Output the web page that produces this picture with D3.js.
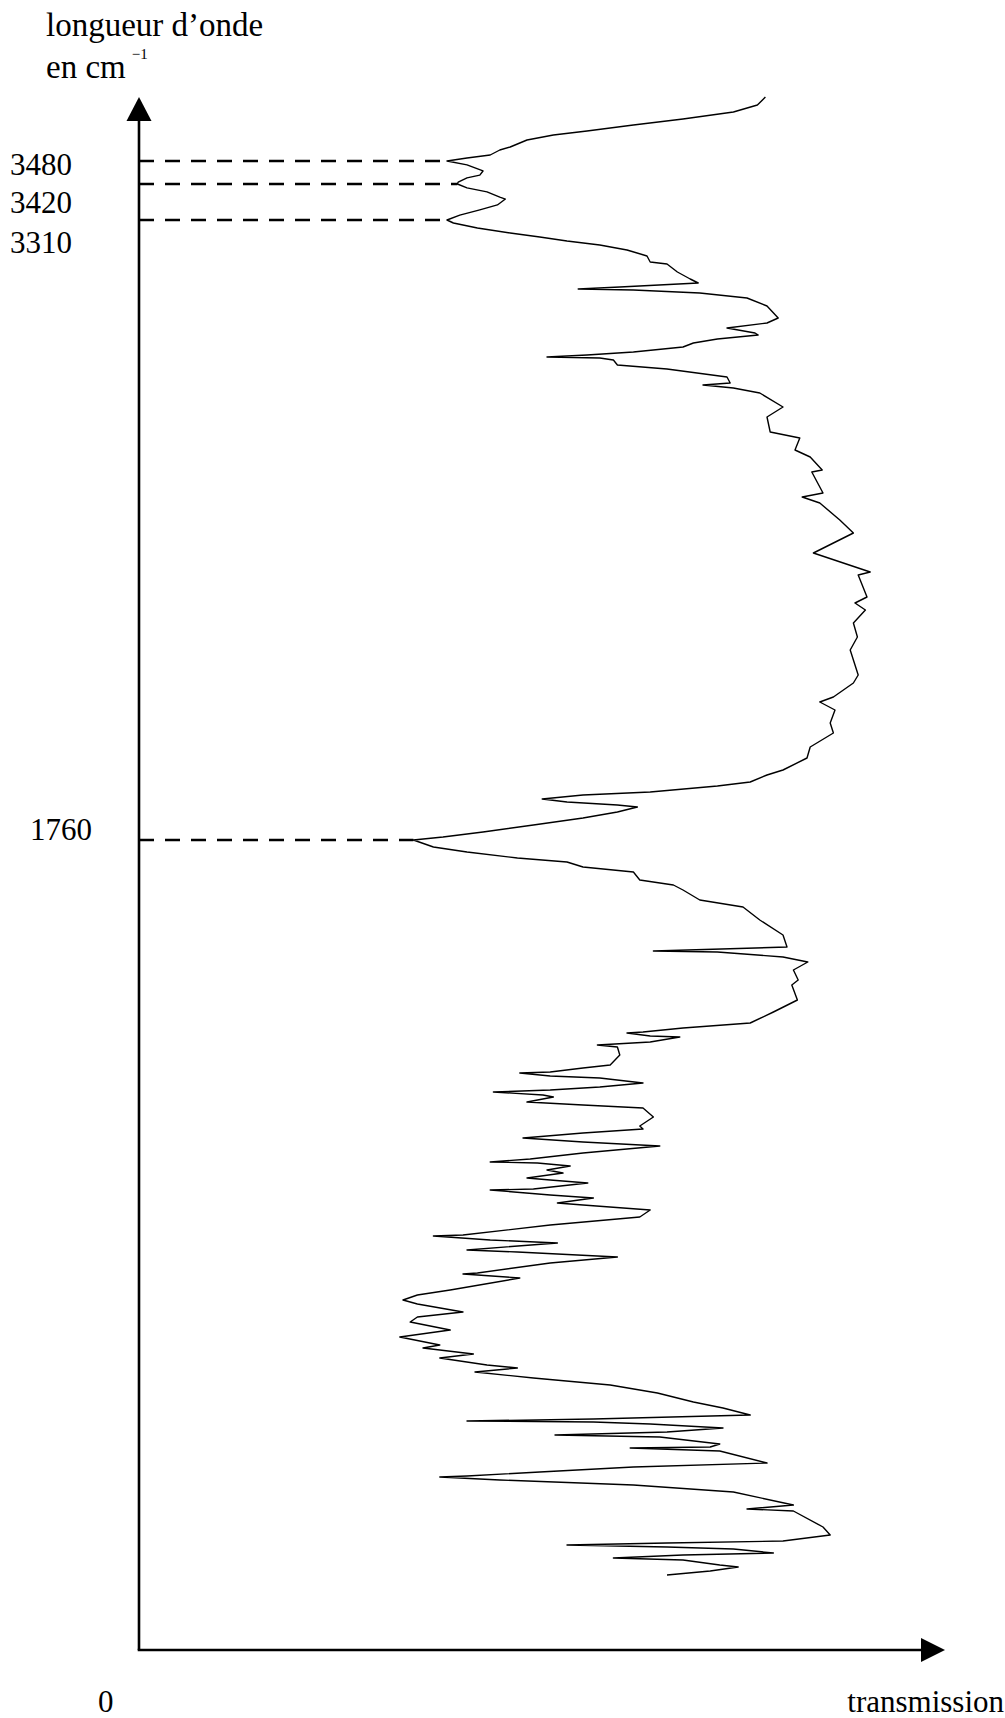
<!DOCTYPE html>
<html>
<head>
<meta charset="utf-8">
<script src="https://cdnjs.cloudflare.com/ajax/libs/d3/7.8.5/d3.min.js"></script>
<style>
  body { margin: 0; background: #fff; }
  svg { display: block; font-family: 'Liberation Serif', 'Times New Roman', serif; }
</style>
</head>
<body>
<div class="canvas"></div>
<script>
// spectrum: wavenumber (cm-1) and transmission (% of axis length)
const wavenumber = [
  3672, 3648, 3627, 3606, 3588, 3570, 3558, 3543, 3522, 3513,
  3498, 3489, 3480, 3470, 3454, 3443, 3436, 3425, 3420, 3408,
  3396, 3380, 3374, 3356, 3341, 3325, 3310, 3302.5, 3290, 3277.5,
  3267.5, 3257.5, 3247.5, 3235, 3220, 3205, 3200, 3180, 3162.5, 3152.5,
  3142.5, 3137.5, 3135, 3127.5, 3115, 3095, 3065, 3052.5, 3040, 3027.5,
  3022.5, 3012.5, 3002.5, 2992.5, 2980, 2972.5, 2967.5, 2965, 2960, 2947.5,
  2937.5, 2917.5, 2902.5, 2897.5, 2890, 2877.5, 2842.5, 2817.5, 2780, 2765,
  2735, 2717.5, 2685, 2680, 2627.5, 2617.5, 2602.5, 2560, 2527.5, 2502.5,
  2477.5, 2430, 2422.5, 2367.5, 2352.5, 2335, 2302.5, 2267.5, 2235, 2172.5,
  2152.5, 2117.5, 2105, 2085, 2052.5, 2027.5, 1992.5, 1965, 1935, 1922.5,
  1905, 1895, 1880, 1872.5, 1862.5, 1855, 1847.5, 1842.5, 1830, 1815,
  1797.5, 1780, 1767.5, 1760, 1748.8, 1740.8, 1731.2, 1724.8, 1716.8, 1708.8,
  1696, 1688, 1680, 1664, 1652.8, 1632, 1608, 1588.8, 1582.4, 1580.8,
  1572.8, 1564.8, 1552, 1536, 1528, 1504, 1484.8, 1467.2, 1459.2, 1452.8,
  1451.2, 1446.4, 1444.8, 1436.8, 1432, 1428.8, 1416, 1400, 1395.2, 1388.8,
  1387.2, 1382.4, 1379.2, 1371.2, 1364.8, 1360, 1356.8, 1352, 1348.8, 1340.8,
  1336, 1331.2, 1316.8, 1302.4, 1297.6, 1291.2, 1283.2, 1276.8, 1270.4, 1259.2,
  1249.6, 1244.8, 1243.2, 1238.4, 1232, 1227.2, 1219.2, 1216, 1211.2, 1201.6,
  1200, 1192, 1187.2, 1179.2, 1176, 1168, 1156.8, 1144, 1128, 1126.4,
  1120, 1115.2, 1104, 1100.8, 1092.8, 1083.2, 1067.2, 1065.6, 1059.2, 1040,
  1032, 1024, 1017.6, 1004.8, 996.8, 988.8, 976, 964.8, 952, 947.2,
  937.6, 931.2, 920, 915.2, 908.8, 899.2, 888, 875.2, 860.8, 851.2,
  840, 833.6, 830.4, 828.8, 825.6, 819.2, 812.8, 808, 804.8, 793.6,
  788.8, 787.2, 782.4, 763.2, 756.8, 748.8, 742.4, 740.8, 736, 728,
  716.8, 696, 689.6, 686.4, 660.8, 648, 638.4, 635.2, 632, 628.8,
  625.6, 619.2, 616, 611.2, 608, 600, 596.8, 590.4, 584
]
const transmission = [
  78.3, 77.3, 74.3, 68, 61.8, 56, 51.8, 48.5, 46.4, 45.1,
  43.9, 41, 38.5, 41, 43, 42.6, 41, 39.9, 39.8, 41,
  43.5, 45.1, 45.8, 44.8, 42.6, 40.1, 38.5, 39.3, 42.3, 46.4,
  50.1, 53.5, 57.6, 61, 63.5, 63.9, 66, 67.3, 68.9, 69.9,
  60.1, 54.9, 61.8, 70.1, 76, 78.5, 79.9, 78.5, 73.5, 77,
  77.4, 72.3, 69.3, 68, 61.8, 56, 51, 57.6, 59.3, 59.8,
  66, 73.5, 73.9, 70.5, 74.3, 77.6, 80.5, 78.5, 78.9, 82.6,
  82, 83.9, 85.4, 84.1, 85.5, 82.9, 85.1, 87.6, 89.3, 86.8,
  84.3, 91.4, 89.9, 91, 89.5, 90.8, 89.3, 89.8, 88.9, 89.9,
  89.3, 86.8, 85.1, 87, 86.4, 86.8, 83.9, 83.5, 80.5, 78.5,
  76.4, 72.3, 63.9, 55.5, 50.4, 53.5, 59.8, 62.3, 59.8, 55.5,
  49.3, 43, 38, 34.3, 36.8, 41, 47.3, 53.5, 55.5, 61.8,
  62.6, 66.8, 68, 70.1, 75.5, 77.6, 80.5, 81, 64.3, 72.3,
  80.5, 83.6, 81.8, 82.4, 81.6, 82.3, 79.3, 76.4, 68, 63,
  61, 63.9, 67.6, 63.9, 57.3, 59.8, 60.1, 58.9, 55.5, 51.4,
  47.6, 51.4, 57.6, 63, 57.6, 51.4, 44.3, 50.5, 51.8, 48.5,
  55.5, 63, 64.3, 62.6, 63, 55.5, 48, 55.5, 65.1, 55.5,
  48.9, 43.9, 49.8, 53.9, 51, 53, 48.5, 51.4, 56.1, 49.3,
  43.9, 51.4, 56.8, 52.3, 55.5, 63.9, 62.6, 51.4, 40.5, 36.8,
  43.9, 52.3, 41, 47.3, 59.8, 51.4, 42.3, 40.5, 47.6, 38.9,
  34.8, 33, 34.8, 40.5, 34.8, 33.9, 38.9, 32.6, 37.6, 35.5,
  41.8, 37.6, 43.5, 47.3, 42, 49.3, 58.9, 64.8, 69.3, 73,
  76.4, 56.8, 41, 56.8, 63.9, 73, 66, 52, 65.1, 72.6,
  71.4, 61.4, 72.6, 78.5, 61.8, 50.1, 41, 37.6, 45.1, 61.8,
  74.3, 81.8, 76, 81.8, 85.5, 86.4, 80.5, 66, 53.5, 66,
  74.3, 79.3, 68, 59.3, 68, 72.6, 74.9, 71.4, 66
]

// marked absorption bands
const bandValues = [3480, 3420, 3310, 1760]
const bandLabels = ['3480', '3420', '3310', '1760']

const yTitleLine1 = 'longueur d\u2019onde'
const yTitleLine2 = 'en cm'
const yTitleExp = '\u22121'
const xTitle = 'transmission'
const originLabel = '0'

const width = 1005
const height = 1718

const svg = d3.select('.canvas')
  .append('svg')
    .attr('width', width)
    .attr('height', height)

// axes geometry
const origin = {x: 139, y: 1650}
const yAxisTop = 97
const xAxisEnd = 945

// transmission scale (horizontal)
const x = d3.scaleLinear()
  .domain([0, 100])
  .range([origin.x, origin.x + 800])

// wavenumber scale (vertical), the drawing is not linear so use several stops
const y = d3.scaleLinear()
  .domain([3700, ...bandValues, 500])
  .range([87.67, 161, 184, 220, 840, 1627.5])

const points = wavenumber.map((w, i) => ({w: w, t: transmission[i]}))

// dashed lines from axis to the band minimum
const bands = bandValues.map(v => {
  const i = wavenumber.indexOf(v)
  return {w: v, t: transmission[i]}
})

svg.append('g')
  .selectAll('line')
  .data(bands)
  .enter()
  .append('line')
    .attr('x1', origin.x)
    .attr('x2', d => x(d.t))
    .attr('y1', d => y(d.w))
    .attr('y2', d => y(d.w))
    .attr('stroke', '#000')
    .attr('stroke-width', 2.6)
    .attr('stroke-dasharray', '15,11')

// the spectrum
const line = d3.line()
  .x(d => x(d.t))
  .y(d => y(d.w))

svg.append('path')
  .datum(points)
  .attr('d', line)
  .attr('fill', 'none')
  .attr('stroke', '#000')
  .attr('stroke-width', 1.4)
  .attr('stroke-linejoin', 'round')

// axes with arrow heads
svg.append('line')
  .attr('x1', origin.x).attr('y1', origin.y)
  .attr('x2', origin.x).attr('y2', yAxisTop + 20)
  .attr('stroke', '#000')
  .attr('stroke-width', 2.6)

svg.append('line')
  .attr('x1', origin.x - 1.3).attr('y1', origin.y)
  .attr('x2', xAxisEnd - 20).attr('y2', origin.y)
  .attr('stroke', '#000')
  .attr('stroke-width', 2.6)

svg.append('path')
  .attr('d', `M${origin.x},${yAxisTop} L${origin.x - 12.5},${yAxisTop + 24} L${origin.x + 12.5},${yAxisTop + 24} Z`)
  .attr('fill', '#000')

svg.append('path')
  .attr('d', `M${xAxisEnd},${origin.y} L${xAxisEnd - 24},${origin.y - 12} L${xAxisEnd - 24},${origin.y + 12} Z`)
  .attr('fill', '#000')

// band labels, the top three are stacked below their lines
const labelPos = [{x: 10, y: 175}, {x: 10, y: 213}, {x: 10, y: 253}, {x: 30, y: 840}]

svg.append('g')
  .selectAll('text')
  .data(bandLabels)
  .enter()
  .append('text')
    .attr('x', (d, i) => labelPos[i].x)
    .attr('y', (d, i) => labelPos[i].y)
    .attr('font-size', 31)
    .attr('fill', '#000')
    .text(d => d)

// axis titles
svg.append('text')
  .attr('x', 46)
  .attr('y', 36)
  .attr('font-size', 33)
  .text(yTitleLine1)

const t2 = svg.append('text')
  .attr('x', 46)
  .attr('y', 78)
  .attr('font-size', 33)
t2.append('tspan').text(yTitleLine2)
t2.append('tspan')
  .attr('dx', 6)
  .attr('dy', -19)
  .attr('font-size', 15)
  .text(yTitleExp)

svg.append('text')
  .attr('x', 98)
  .attr('y', 1712)
  .attr('font-size', 31)
  .text(originLabel)

svg.append('text')
  .attr('x', 1004)
  .attr('y', 1712)
  .attr('text-anchor', 'end')
  .attr('font-size', 31)
  .text(xTitle)
</script>
</body>
</html>
